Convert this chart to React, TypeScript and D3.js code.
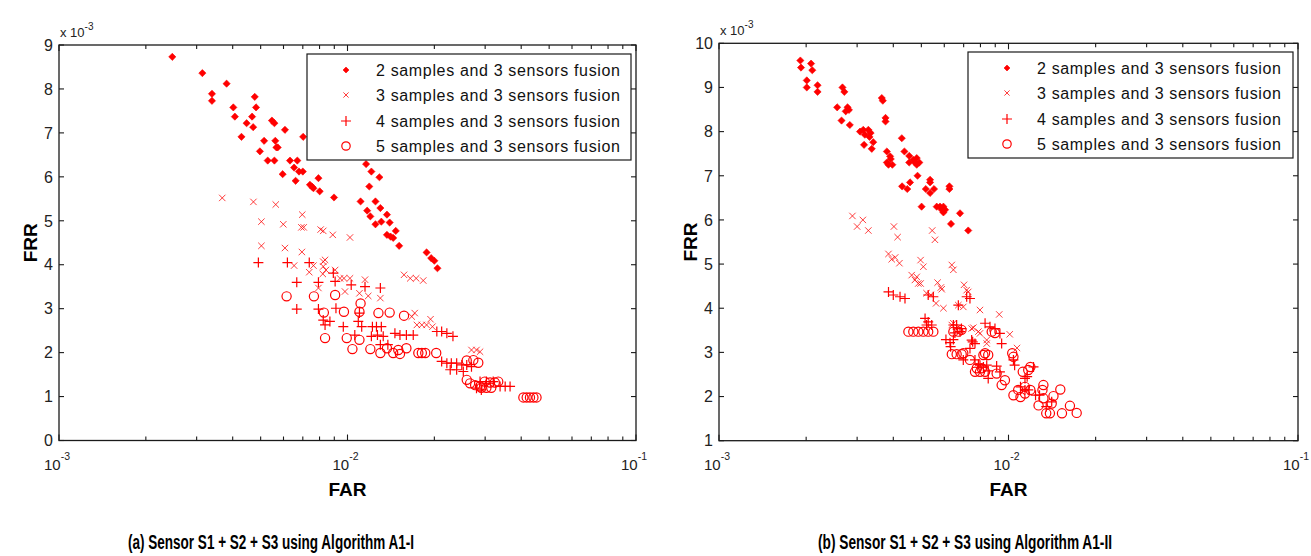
import React from 'react';
import * as d3 from 'd3';

type Pt = [number, number]; // [FAR, FRR x 10^-3]

const seriesLabels = [
  '2 samples and 3 sensors fusion',
  '3 samples and 3 sensors fusion',
  '4 samples and 3 sensors fusion',
  '5 samples and 3 sensors fusion',
];
const markerTypes = ['diamond', 'x', 'plus', 'circle'];

// ---------- Panel (a): Algorithm A1-I ----------
const a2Samples: Pt[] = [
  [0.00247, 8.73], [0.00314, 8.36], [0.00339, 7.89], [0.00339, 7.73], [0.00381, 8.12], [0.00402, 7.58],
  [0.00407, 7.37], [0.00429, 6.91], [0.00447, 7.22], [0.00467, 7.37], [0.00471, 7.13], [0.00477, 7.82],
  [0.00482, 7.58], [0.00497, 6.58], [0.00514, 6.82], [0.00529, 6.37], [0.00547, 7.28], [0.00558, 7.22],
  [0.00558, 6.37], [0.00562, 6.82], [0.00567, 6.67], [0.00573, 6.67], [0.00596, 6.06], [0.00607, 7.07],
  [0.00632, 6.37], [0.00653, 6.21], [0.00661, 5.91], [0.0067, 6.37], [0.00679, 6.12], [0.007, 6.12],
  [0.00702, 6.91], [0.00741, 5.82], [0.00755, 5.77], [0.00762, 5.74], [0.00793, 5.97], [0.00801, 5.67],
  [0.00898, 5.53], [0.0116, 6.29], [0.0121, 6.12], [0.0129, 5.99], [0.0119, 5.78], [0.0111, 5.44],
  [0.0125, 5.44], [0.0117, 5.23], [0.012, 5.1], [0.013, 5.29], [0.0137, 5.14], [0.0125, 4.92],
  [0.0131, 4.98], [0.014, 4.96], [0.0147, 4.77], [0.0137, 4.68], [0.0141, 4.64], [0.0144, 4.61],
  [0.0151, 4.43], [0.0188, 4.28], [0.0195, 4.15], [0.02, 4.09], [0.0205, 3.92],
];
const a3Samples: Pt[] = [
  [0.00368, 5.52], [0.00472, 5.43], [0.00564, 5.37], [0.00503, 4.98], [0.00599, 4.92], [0.00697, 5.14],
  [0.00692, 4.85], [0.00705, 4.85], [0.00807, 4.8], [0.00503, 4.43], [0.00607, 4.38], [0.00695, 4.29],
  [0.00653, 3.98], [0.00737, 3.83], [0.00762, 3.98], [0.00824, 4.07], [0.00821, 3.79], [0.00793, 3.47],
  [0.00824, 4.77], [0.00889, 4.68], [0.0102, 4.62], [0.00836, 4.11], [0.00824, 3.96], [0.00842, 3.88],
  [0.00906, 3.88], [0.00942, 3.69], [0.00972, 3.69], [0.0102, 3.69], [0.0115, 3.66], [0.0098, 3.39],
  [0.011, 3.35], [0.0118, 3.29], [0.013, 3.24], [0.0157, 3.77], [0.0165, 3.69], [0.0173, 3.69],
  [0.0183, 3.64], [0.0171, 2.9], [0.0167, 2.82], [0.0174, 2.63], [0.0181, 2.63], [0.0188, 2.63],
  [0.0194, 2.76], [0.0197, 2.59], [0.0269, 2.06], [0.028, 2.06], [0.0288, 2.02],
];
const a4Samples: Pt[] = [
  [0.00491, 4.05], [0.00619, 4.05], [0.00667, 3.6], [0.00667, 2.99], [0.00737, 4.05], [0.00793, 3.6],
  [0.00793, 2.99], [0.00836, 2.63], [0.00824, 2.74], [0.00869, 2.71], [0.00893, 3.81], [0.00906, 3.62],
  [0.00912, 3.01], [0.00967, 2.59], [0.0103, 3.54], [0.0106, 2.4], [0.0109, 2.71], [0.011, 2.9],
  [0.0112, 2.59], [0.0115, 3.5], [0.0122, 2.59], [0.0126, 2.59], [0.0131, 2.59], [0.0121, 2.37],
  [0.0127, 2.4], [0.0133, 2.37], [0.013, 3.47], [0.013, 2.18], [0.0146, 2.44], [0.0152, 2.4],
  [0.016, 2.4], [0.0169, 2.4], [0.0138, 2.18], [0.0204, 2.48], [0.0212, 2.48], [0.0221, 2.44],
  [0.0232, 2.37], [0.0212, 1.8], [0.0221, 1.76], [0.0229, 1.76], [0.0239, 1.76], [0.0249, 1.72],
  [0.0259, 1.72], [0.0269, 1.68], [0.0227, 1.61], [0.0239, 1.61], [0.0252, 1.57], [0.0288, 1.34],
  [0.0303, 1.34], [0.032, 1.34], [0.0338, 1.23], [0.0352, 1.23], [0.0366, 1.23], [0.028, 1.19],
  [0.0291, 1.15],
];
const a5Samples: Pt[] = [
  [0.00615, 3.28], [0.00765, 3.28], [0.00828, 2.91], [0.00836, 2.33], [0.00906, 3.31], [0.00972, 2.93],
  [0.011, 2.93], [0.0111, 3.12], [0.00994, 2.33], [0.0104, 2.08], [0.011, 2.29], [0.012, 2.08],
  [0.0128, 2.9], [0.014, 2.91], [0.013, 1.99], [0.0137, 2.1], [0.0144, 1.99], [0.015, 2.06],
  [0.016, 2.1], [0.0152, 1.97], [0.0157, 2.84], [0.0176, 1.99], [0.0181, 1.99], [0.0186, 1.99],
  [0.0203, 1.99], [0.0259, 1.82], [0.0273, 1.83], [0.0284, 1.77], [0.0259, 1.38], [0.0266, 1.3],
  [0.0277, 1.26], [0.0288, 1.23], [0.0299, 1.34], [0.0312, 1.32], [0.0324, 1.32], [0.0333, 1.34],
  [0.0291, 1.2], [0.0303, 1.2], [0.0315, 1.2], [0.0407, 0.98], [0.0418, 0.98], [0.0429, 0.98],
  [0.0441, 0.98], [0.0452, 0.98],
];

// ---------- Panel (b): Algorithm A1-II ----------
const b2Samples: Pt[] = [
  [0.00191, 9.61], [0.00192, 9.45], [0.00208, 9.54], [0.0021, 9.39], [0.00201, 9.16], [0.00201, 9.0],
  [0.00219, 9.05], [0.00219, 8.9], [0.00256, 8.55], [0.00265, 8.25], [0.00267, 9.0], [0.00271, 8.9],
  [0.00274, 8.46], [0.00278, 8.55], [0.00281, 8.49], [0.00283, 8.15], [0.00307, 8.0], [0.00315, 8.04],
  [0.00319, 7.93], [0.00328, 8.04], [0.00334, 7.97], [0.00331, 7.88], [0.00317, 7.7], [0.00337, 7.61],
  [0.00341, 7.76], [0.00365, 8.76], [0.00368, 8.7], [0.00376, 8.31], [0.00376, 8.23], [0.0038, 7.55],
  [0.0038, 7.3], [0.00385, 7.25], [0.0039, 7.44], [0.00392, 7.38], [0.00397, 7.25], [0.00428, 7.85],
  [0.00437, 7.55], [0.00429, 6.76], [0.00447, 6.7], [0.00457, 6.85], [0.00454, 7.45], [0.00454, 7.3],
  [0.00469, 7.36], [0.00475, 7.3], [0.00482, 7.25], [0.00492, 7.3], [0.00482, 7.4], [0.00485, 7.0],
  [0.00501, 6.3], [0.00518, 6.7], [0.00536, 6.91], [0.00536, 6.85], [0.00536, 6.61], [0.00553, 6.7],
  [0.00565, 6.3], [0.0058, 6.3], [0.00588, 6.23], [0.00596, 6.3], [0.00596, 6.17], [0.00604, 6.23],
  [0.00625, 6.76], [0.00625, 6.7], [0.00633, 5.91], [0.0068, 6.15], [0.00726, 5.76],
];
const b3Samples: Pt[] = [
  [0.00289, 6.09], [0.003, 5.85], [0.00314, 6.0], [0.00328, 5.76], [0.00402, 5.85], [0.00414, 5.61],
  [0.00545, 5.76], [0.00557, 5.55], [0.00385, 5.23], [0.00395, 5.11], [0.00406, 5.15], [0.0042, 5.02],
  [0.00463, 4.75], [0.00475, 4.64], [0.00488, 4.56], [0.00497, 4.56], [0.00482, 4.71], [0.00497, 5.09],
  [0.00508, 4.94], [0.00521, 4.34], [0.00539, 4.3], [0.00562, 4.11], [0.00596, 4.0], [0.00569, 4.58],
  [0.00584, 4.47], [0.00588, 4.43], [0.00637, 4.98], [0.00645, 4.87], [0.00637, 3.62], [0.00645, 3.66],
  [0.00702, 4.53], [0.00717, 4.41], [0.00726, 4.37], [0.00671, 4.07], [0.00698, 4.03], [0.00746, 3.54],
  [0.00797, 3.96], [0.00787, 3.47], [0.00841, 3.28], [0.00929, 3.86], [0.00756, 3.56], [0.00797, 3.43],
  [0.00841, 3.2], [0.0101, 3.41], [0.0107, 3.1],
];
const b4Samples: Pt[] = [
  [0.00385, 4.37], [0.004, 4.3], [0.00422, 4.26], [0.00439, 4.22], [0.00515, 3.77], [0.00528, 3.69],
  [0.00543, 3.62], [0.00521, 3.62], [0.00528, 4.3], [0.0055, 4.26], [0.00608, 3.29], [0.00628, 3.22],
  [0.00645, 3.29], [0.00653, 3.44], [0.00645, 3.62], [0.00662, 3.62], [0.00631, 3.13], [0.0068, 3.47],
  [0.00671, 4.07], [0.00717, 4.26], [0.00736, 4.22], [0.00746, 3.28], [0.00766, 3.2], [0.00736, 3.09],
  [0.00766, 2.83], [0.00797, 2.71], [0.00841, 2.71], [0.00851, 2.41], [0.0083, 3.66], [0.00688, 3.54],
  [0.00752, 3.24], [0.00863, 3.58], [0.00898, 3.54], [0.00934, 3.43], [0.00947, 3.2], [0.00787, 2.73],
  [0.00819, 2.67], [0.00851, 2.58], [0.0091, 2.69], [0.00934, 2.56], [0.0104, 2.83], [0.0105, 2.71],
  [0.011, 2.22], [0.0114, 2.15], [0.0116, 2.45], [0.0117, 2.15], [0.0122, 2.67], [0.0114, 2.41],
  [0.0124, 2.03], [0.0128, 2.03], [0.0135, 1.77], [0.0141, 1.88], [0.00698, 2.83],
];
const b5Samples: Pt[] = [
  [0.00451, 3.47], [0.00469, 3.47], [0.00488, 3.47], [0.00508, 3.47], [0.00528, 3.47], [0.0055, 3.47],
  [0.00637, 2.96], [0.00662, 2.96], [0.00689, 2.96], [0.00645, 3.47], [0.00671, 3.47], [0.00688, 3.51],
  [0.00766, 2.56], [0.00797, 2.56], [0.0083, 2.56], [0.00777, 2.64], [0.00808, 2.64], [0.00819, 2.94],
  [0.00851, 2.94], [0.00698, 2.98], [0.00736, 2.83], [0.0083, 2.98], [0.00875, 3.47], [0.00898, 3.44],
  [0.0091, 2.52], [0.00947, 2.26], [0.00972, 2.37], [0.0103, 2.98], [0.0104, 2.9], [0.0104, 2.03],
  [0.011, 1.99], [0.0108, 2.15], [0.0114, 2.07], [0.0119, 2.15], [0.0114, 2.22], [0.0112, 2.56],
  [0.0117, 2.6], [0.0119, 2.67], [0.0127, 1.8], [0.0132, 2.26], [0.0131, 2.15], [0.0135, 1.62],
  [0.0139, 1.62], [0.0132, 1.96], [0.0141, 1.84], [0.0143, 2.01], [0.0151, 2.16], [0.0153, 1.62],
  [0.0163, 1.79], [0.0172, 1.63],
];

const xDomain: [number, number] = [0.001, 0.1];
const xTickExponents = [-3, -2, -1];
const yTicksA = [0, 1, 2, 3, 4, 5, 6, 7, 8, 9];
const yTicksB = [1, 2, 3, 4, 5, 6, 7, 8, 9, 10];
const captionA = '(a) Sensor S1 + S2 + S3 using Algorithm A1-I';
const captionB = '(b) Sensor S1 + S2 + S3 using Algorithm A1-II';

const RED = '#ff0000';
const AX = '#1a1a1a';
const FONT = '"Liberation Sans", Arial, Helvetica, sans-serif';

function Marker({ type, x, y, legend = false }: { type: string; x: number; y: number; legend?: boolean }) {
  if (type === 'diamond') {
    const r = legend ? 3 : 3.6;
    return <path d={`M${x},${y - r}L${x + r},${y}L${x},${y + r}L${x - r},${y}Z`} fill={RED} stroke={RED} strokeWidth={0.6} />;
  }
  if (type === 'x') {
    const r = legend ? 2.6 : 3.2;
    return (
      <path d={`M${x - r},${y - r}L${x + r},${y + r}M${x - r},${y + r}L${x + r},${y - r}`} stroke={RED} strokeWidth={0.9} fill="none" strokeOpacity={0.85} />
    );
  }
  if (type === 'plus') {
    const r = 5;
    return <path d={`M${x - r},${y}L${x + r},${y}M${x},${y - r}L${x},${y + r}`} stroke={RED} strokeWidth={1.2} fill="none" />;
  }
  return <circle cx={x} cy={y} r={legend ? 4.2 : 4.6} fill="none" stroke={RED} strokeWidth={1.2} />;
}

type PanelProps = {
  series: Pt[][];
  frame: { x0: number; x1: number; y0: number; y1: number };
  yDomain: [number, number];
  yTicks: number[];
  legend: { x0: number; x1: number; y0: number; y1: number; markerX: number; textX: number; rows: number[] };
  caption: string;
  captionX: number;
  captionW: number;
  frrX: number;
};

function Panel({ series, frame, yDomain, yTicks, legend, caption, captionX, captionW, frrX }: PanelProps) {
  const xs = d3.scaleLog().domain(xDomain).range([frame.x0, frame.x1]);
  const ys = d3.scaleLinear().domain(yDomain).range([frame.y1, frame.y0]);
  const minor: number[] = [];
  for (const e of [-3, -2]) for (let k = 2; k <= 9; k++) minor.push(k * Math.pow(10, e));
  const majorLen = 6;
  const minorLen = 4;
  const cx = (frame.x0 + frame.x1) / 2;
  const cy = (frame.y0 + frame.y1) / 2;
  return (
    <g fontFamily={FONT}>
      {series.map((pts, si) => (
        <g key={si}>
          {pts.map((p, i) => (
            <Marker key={i} type={markerTypes[si]} x={xs(p[0])} y={ys(p[1])} />
          ))}
        </g>
      ))}
      <rect x={frame.x0} y={frame.y0} width={frame.x1 - frame.x0} height={frame.y1 - frame.y0} fill="none" stroke={AX} strokeWidth={1.3} />
      {yTicks.map((t) => (
        <g key={t}>
          <line x1={frame.x0} x2={frame.x0 + 5} y1={ys(t)} y2={ys(t)} stroke={AX} strokeWidth={1.1} />
          <line x1={frame.x1} x2={frame.x1 - 5} y1={ys(t)} y2={ys(t)} stroke={AX} strokeWidth={1.1} />
          <text x={frame.x0 - 6} y={ys(t)} dy="0.36em" textAnchor="end" fontSize={16} fill="#222">
            {t}
          </text>
        </g>
      ))}
      {xTickExponents.map((e) => {
        const x = xs(Math.pow(10, e));
        return (
          <g key={e}>
            <line x1={x} x2={x} y1={frame.y1} y2={frame.y1 - majorLen} stroke={AX} strokeWidth={1.1} />
            <line x1={x} x2={x} y1={frame.y0} y2={frame.y0 + majorLen} stroke={AX} strokeWidth={1.1} />
            <text x={x - 15} y={frame.y1 + 29} fontSize={15} fill="#222">
              10
              <tspan dy={-10} fontSize={10.5}>{String(e)}</tspan>
            </text>
          </g>
        );
      })}
      {minor.map((v, i) => {
        const x = xs(v);
        return (
          <g key={'m' + i}>
            <line x1={x} x2={x} y1={frame.y1} y2={frame.y1 - minorLen} stroke={AX} strokeWidth={1.1} />
            <line x1={x} x2={x} y1={frame.y0} y2={frame.y0 + minorLen} stroke={AX} strokeWidth={1.1} />
          </g>
        );
      })}
      <text x={frame.x0 + 1} y={frame.y0 - 8} fontSize={13} fill="#222">
        x 10
        <tspan dy={-7} fontSize={10}>-3</tspan>
      </text>
      <text x={cx} y={frame.y1 + 55} textAnchor="middle" fontSize={19} fontWeight="bold" fill="#000">
        FAR
      </text>
      <text transform={`translate(${frrX},${cy}) rotate(-90)`} textAnchor="middle" fontSize={19} fontWeight="bold" fill="#000">
        FRR
      </text>
      <rect x={legend.x0} y={legend.y0} width={legend.x1 - legend.x0} height={legend.y1 - legend.y0} fill="#fff" stroke={AX} strokeWidth={1.2} />
      {seriesLabels.map((lab, i) => (
        <g key={lab}>
          <Marker type={markerTypes[i]} x={legend.markerX} y={legend.rows[i]} legend />
          <text x={legend.textX} y={legend.rows[i]} dy="0.36em" fontSize={16} fill="#111" textLength={244} lengthAdjust="spacing">
            {lab}
          </text>
        </g>
      ))}
      <text x={captionX} y={549} fontSize={19.5} fontWeight="bold" fill="#000" textLength={captionW} lengthAdjust="spacingAndGlyphs">
        {caption}
      </text>
    </g>
  );
}

export default function App() {
  return (
    <svg width={1311} height={556} style={{ position: 'absolute', left: 0, top: 0, display: 'block', background: '#fff' }}>
      <rect x={0} y={0} width={1311} height={556} fill="#fff" />
      <Panel
        series={[a2Samples, a3Samples, a4Samples, a5Samples]}
        frame={{ x0: 59, x1: 636, y0: 45, y1: 440.5 }}
        yDomain={[0, 9]}
        yTicks={yTicksA}
        legend={{ x0: 307, x1: 631, y0: 54, y1: 160, markerX: 346, textX: 376, rows: [70, 95, 121, 146] }}
        caption={captionA}
        captionX={128}
        captionW={286}
        frrX={37}
      />
      <Panel
        series={[b2Samples, b3Samples, b4Samples, b5Samples]}
        frame={{ x0: 719, x1: 1298, y0: 43.3, y1: 440.7 }}
        yDomain={[1, 10]}
        yTicks={yTicksB}
        legend={{ x0: 968, x1: 1293, y0: 52, y1: 158, markerX: 1007, textX: 1037, rows: [68, 93, 119, 144] }}
        caption={captionB}
        captionX={818}
        captionW={294}
        frrX={697}
      />
    </svg>
  );
}
